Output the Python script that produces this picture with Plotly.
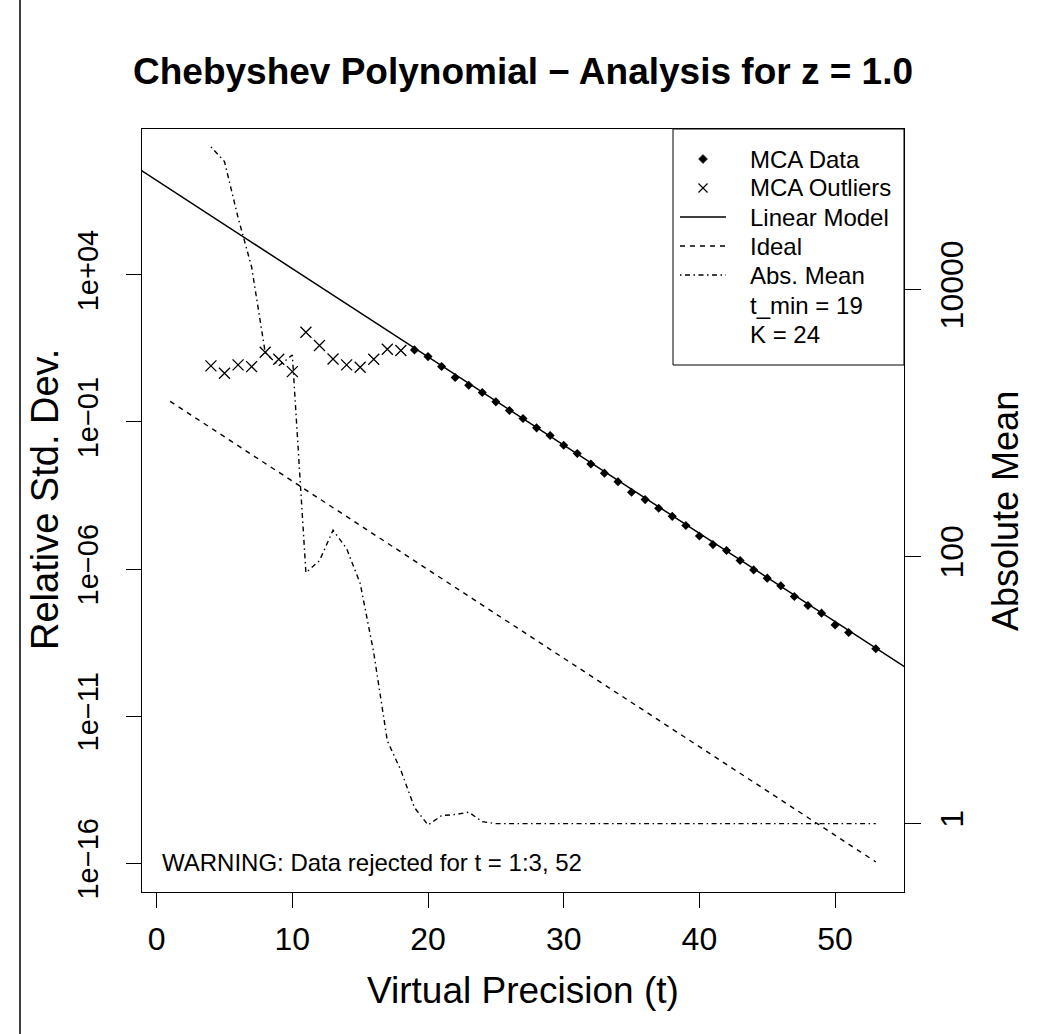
import plotly.graph_objects as go

# ---------------- data ----------------
t_data = list(range(19, 52)) + [53]
sd_data = [28.2, 16.7, 7.64, 3.24, 1.78, 1.0, 0.482, 0.244, 0.131, 0.0631,
           0.0347, 0.0162, 0.00851, 0.00372, 0.00182, 9.33e-4, 4.07e-4, 2.29e-4,
           1.17e-4, 6.17e-5, 3.02e-5, 1.32e-5, 6.76e-6, 4.27e-6, 1.95e-6, 9.33e-7,
           4.9e-7, 2.69e-7, 1.17e-7, 5.75e-8, 3.16e-8, 1.26e-8, 6.92e-9, 1.95e-9]

t_out = list(range(4, 19))
sd_out = [8.07, 4.56, 8.71, 7.59, 23.4, 13.5, 5.13, 112, 39.8, 13.8,
          8.71, 7.24, 13.5, 29.5, 26.9]

t_mean = list(range(4, 54))
abs_mean = [117500, 91200, 34700, 14800, 3390, 2690, 3240, 75.9, 93.3, 158,
            115, 63.1, 19.1, 4.17, 2.51, 1.32, 0.977, 1.15, 1.17, 1.22,
            1.035] + [1.0] * 29

lm_t = [-2, 56]
lm_sd = [6.47e7, 2.6e-10]

ideal_t = [1, 53]
ideal_sd = [0.5, 1.11e-16]

x_ticks = [0, 10, 20, 30, 40, 50]
y_ticks = [1e4, 1e-1, 1e-6, 1e-11, 1e-16]
y_ticktext = ["1e+04", "1e\u221201", "1e\u221206", "1e\u221211", "1e\u221216"]
y2_ticks = [1, 100, 10000]
y2_ticktext = ["1", "100", "10000"]

legend_labels = ["MCA Data", "MCA Outliers", "Linear Model", "Ideal",
                 "Abs. Mean", "t_min = 19", "K = 24"]

FONT = "Liberation Sans, Arial, sans-serif"
W, H = 1039, 1034
L, R, T, B = 142, 904, 129, 892


def px(x):
    return (x - L) / (R - L)


def py(y):
    return (B - y) / (B - T)


fig = go.Figure()

fig.add_trace(go.Scatter(x=lm_t, y=lm_sd, mode="lines", name="Linear Model",
                         line=dict(color="black", width=1.5), showlegend=False))
fig.add_trace(go.Scatter(x=ideal_t, y=ideal_sd, mode="lines", name="Ideal",
                         line=dict(color="black", width=1.4, dash="5px,5px"),
                         showlegend=False))
fig.add_trace(go.Scatter(x=t_mean, y=abs_mean, mode="lines", name="Abs. Mean",
                         yaxis="y2",
                         line=dict(color="black", width=1.4,
                                   dash="1.5px,3.5px,5px,3.5px"),
                         showlegend=False))
fig.add_trace(go.Scatter(x=t_out, y=sd_out, mode="markers", name="MCA Outliers",
                         marker=dict(symbol="x-thin-open", size=11, color="black",
                                     line=dict(color="black", width=1.3)),
                         showlegend=False))
fig.add_trace(go.Scatter(x=t_data, y=sd_data, mode="markers", name="MCA Data",
                         marker=dict(symbol="diamond", size=7, color="black"),
                         showlegend=False))

shapes = []
annotations = []

# legend box
lx0, ly0, lx1, ly1 = 673, 129, 904, 365
shapes.append(dict(type="rect", xref="paper", yref="paper",
                   x0=px(lx0), x1=px(lx1), y0=py(ly1), y1=py(ly0),
                   line=dict(color="black", width=1), fillcolor="white", layer="above"))
row_y = [159, 188, 217, 246, 275, 305, 334]
sym_x = 703
txt_x = 748
# diamond
shapes.append(dict(type="path", xref="paper", yref="paper", xsizemode="pixel",
                   ysizemode="pixel", xanchor=px(sym_x), yanchor=py(row_y[0]),
                   path="M0,4.5 L4.5,0 L0,-4.5 L-4.5,0 Z", fillcolor="black",
                   line=dict(color="black", width=0.5), layer="above"))
# x
shapes.append(dict(type="path", xref="paper", yref="paper", xsizemode="pixel",
                   ysizemode="pixel", xanchor=px(sym_x), yanchor=py(row_y[1]),
                   path="M-4.5,-4.5 L4.5,4.5 M-4.5,4.5 L4.5,-4.5",
                   line=dict(color="black", width=1.2), layer="above"))
# lines
for i, dash in [(2, "solid"), (3, "5px,5px"), (4, "1.5px,3.5px,5px,3.5px")]:
    shapes.append(dict(type="line", xref="paper", yref="paper",
                       x0=px(680), x1=px(726), y0=py(row_y[i]), y1=py(row_y[i]),
                       line=dict(color="black", width=1.3, dash=dash), layer="above"))
for i, lab in enumerate(legend_labels):
    annotations.append(dict(text=lab, xref="paper", yref="paper", x=px(txt_x),
                            y=py(row_y[i]), xanchor="left", yanchor="middle",
                            showarrow=False, font=dict(size=24, color="black", family=FONT)))

# outer frame line on the far left
shapes.append(dict(type="line", xref="paper", yref="paper", x0=px(20), x1=px(20),
                   y0=py(0), y1=py(H), line=dict(color="black", width=1.5)))

# titles
annotations.append(dict(text="<b>Chebyshev Polynomial \u2212 Analysis for z = 1.0</b>",
                        xref="paper", yref="paper", x=0.5, y=py(72),
                        xanchor="center", yanchor="middle", showarrow=False,
                        font=dict(size=37, color="black", family=FONT)))
annotations.append(dict(text="Virtual Precision (t)", xref="paper", yref="paper",
                        x=0.5, y=py(991), xanchor="center", yanchor="middle",
                        showarrow=False, font=dict(size=37, color="black", family=FONT)))
annotations.append(dict(text="Relative Std. Dev.", xref="paper", yref="paper",
                        x=px(45), y=py(500), xanchor="center", yanchor="middle",
                        textangle=-90, showarrow=False,
                        font=dict(size=38, color="black", family=FONT)))
annotations.append(dict(text="Absolute Mean", xref="paper", yref="paper",
                        x=px(1005), y=py(511), xanchor="center", yanchor="middle",
                        textangle=-90, showarrow=False,
                        font=dict(size=36, color="black", family=FONT)))
annotations.append(dict(text="WARNING: Data rejected for t = 1:3, 52", xref="paper",
                        yref="paper", x=px(160), y=py(862), xanchor="left",
                        yanchor="middle", showarrow=False,
                        font=dict(size=24, color="black", family=FONT)))

fig.update_layout(
    width=W, height=H,
    margin=dict(l=L, r=W - R, t=T, b=H - B, autoexpand=False),
    paper_bgcolor="white", plot_bgcolor="white",
    font=dict(family=FONT, color="black"),
    showlegend=False,
    xaxis=dict(range=[-1.08, 55.08], tickvals=x_ticks, ticks="outside", ticklen=15,
               tickcolor="black", tickwidth=1, showline=True, mirror=True,
               linecolor="black", linewidth=1, showgrid=False, zeroline=False,
               tickfont=dict(size=32), ticklabelstandoff=4),
    yaxis=dict(type="log", range=[-16.98, 8.96], tickvals=y_ticks, ticktext=y_ticktext,
               ticks="outside", ticklen=15, tickcolor="black", tickwidth=1,
               showline=True, mirror=True, linecolor="black", linewidth=1,
               showgrid=False, zeroline=False, tickangle=-90,
               tickfont=dict(size=29), ticklabelstandoff=16),
    yaxis2=dict(type="log", range=[-0.512, 5.204], overlaying="y", side="right",
                tickvals=y2_ticks, ticktext=y2_ticktext, ticks="outside", ticklen=16,
                tickcolor="black", tickwidth=1, showline=False, showgrid=False,
                zeroline=False, tickangle=-90, tickfont=dict(size=32),
                ticklabelstandoff=4),
    shapes=shapes,
    annotations=annotations,
)

fig.write_html("out.html")
